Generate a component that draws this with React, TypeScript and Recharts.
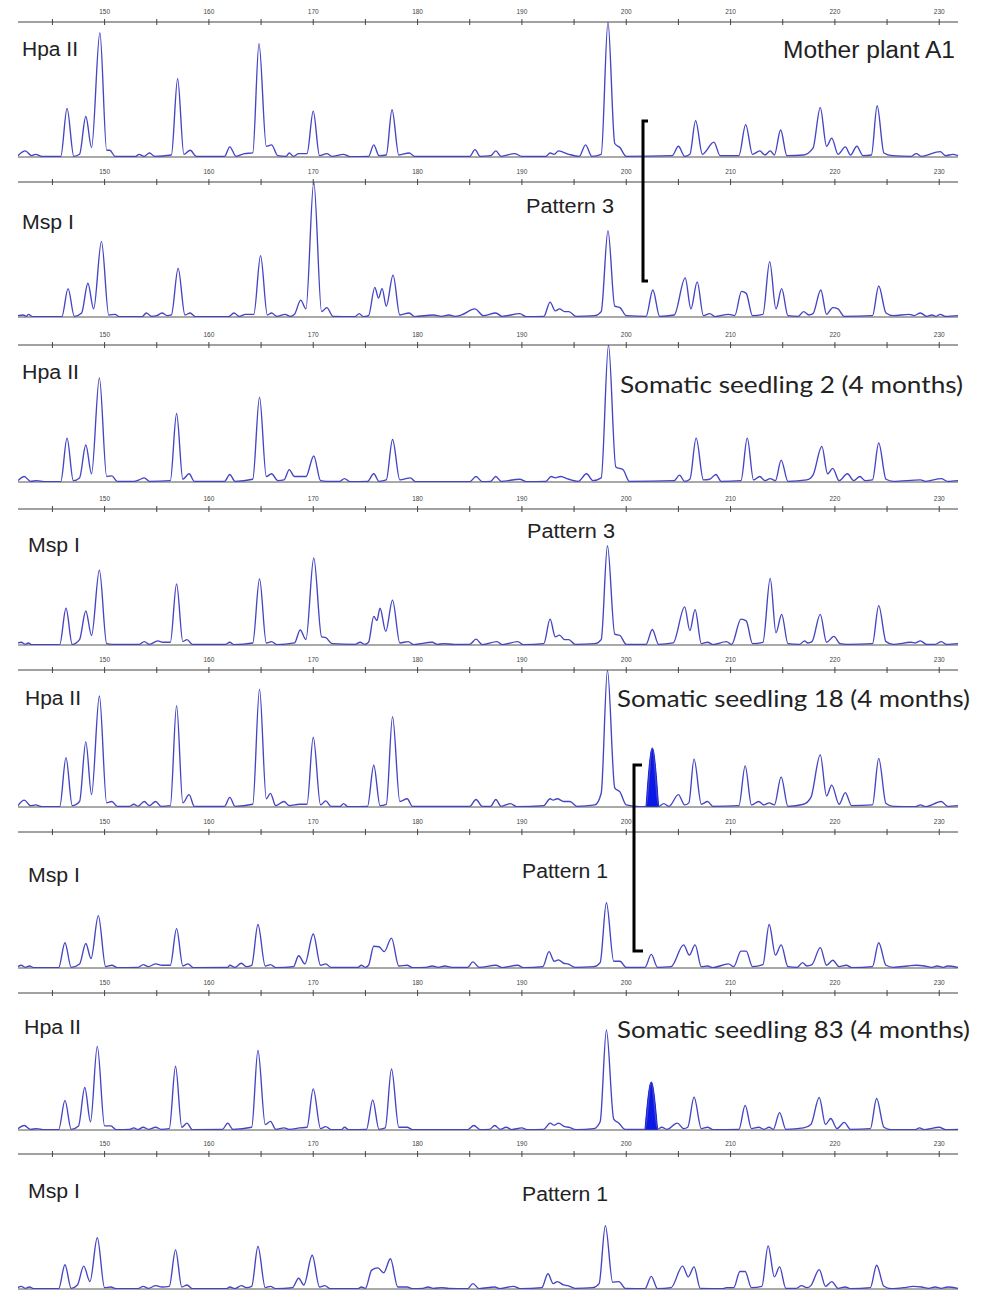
import { ComposedChart, Line, Area, XAxis, YAxis, ReferenceLine } from "recharts";

type Pt = [number, number];

// fragment size (bp) axis
const sizeDomain: [number, number] = [141.7, 231.8];
const tickValues = [145, 150, 155, 160, 165, 170, 175, 180, 185, 190, 195, 200, 205, 210, 215, 220, 225, 230];

// traces: [size, relative fluorescence], 100 = top of panel
const motherHpa: Pt[] = [
  [141.7, 1], [142.4, 4.5], [143.0, 1], [143.4, 2], [144, 0.5], [145.8, 0.5], [146.4, 36], [147.05, 0.5], [147.6, 2],
  [148.2, 30], [148.75, 7], [149.55, 92], [150.2, 5], [150.5, 5], [151, 0.5], [153.0, 0.5], [153.3, 2], [153.8, 0.5],
  [154.3, 3], [154.8, 0.5], [156.4, 1.5], [157.0, 58], [157.6, 2], [158.2, 5], [158.8, 0.5], [161.5, 0.5], [162.0, 7.5],
  [162.6, 0.5], [163.4, 2.5], [164.2, 3], [164.8, 84], [165.5, 8], [166.0, 9], [166.6, 1], [167.4, 0.5], [167.7, 3],
  [168.1, 0.5], [168.6, 2.5], [169.4, 2.5], [170.0, 34], [170.6, 1], [171.3, 2.5], [171.8, 0.5], [172.9, 2], [173.5, 0.3],
  [175.3, 0.5], [175.8, 9], [176.3, 1], [177.0, 1.5], [177.55, 35], [178.2, 1.5], [179.2, 3], [179.7, 0.5], [185.0, 0.5],
  [185.5, 5.5], [186.0, 0.5], [187.0, 1], [187.5, 4.5], [188.0, 0.5], [189.3, 2.5], [190, 0.5], [192.3, 0.5], [192.7, 3],
  [193.1, 2], [193.5, 4.5], [194.5, 2], [195.5, 0.5], [196.1, 9], [196.7, 0.5], [197.6, 2], [198.25, 100], [198.9, 10],
  [199.4, 7], [200.0, 0.5], [204.4, 1], [205.0, 8], [205.6, 0.5], [206.1, 2], [206.65, 27], [207.3, 2], [208.4, 11],
  [209.0, 1], [210.8, 1], [211.45, 24], [212.1, 2], [212.8, 4.5], [213.3, 1.5], [213.8, 4.5], [214.2, 1.5], [214.8, 20],
  [215.4, 1], [217.0, 1.5], [217.9, 6.5], [218.6, 36.6], [219.2, 8], [219.7, 14], [220.3, 2], [221.0, 7.5], [221.5, 1.5],
  [222.1, 8], [222.7, 1], [223.5, 1.5], [224.05, 38], [224.7, 3], [225.5, 1], [227.3, 0.5], [227.8, 2.5], [228.3, 0.5],
  [230.1, 4], [230.6, 1], [231.3, 2], [231.8, 1],
];

const motherMsp: Pt[] = [
  [141.7, 1], [142.2, 1.5], [142.5, 0.5], [142.7, 2], [143.1, 0.3], [145.9, 0.3], [146.5, 21], [147.1, 0.5], [147.8, 3],
  [148.4, 25], [148.95, 6], [149.7, 56], [150.4, 1.5], [151.0, 2], [151.4, 0.3], [153.6, 0.3], [154.0, 3], [154.5, 0.5],
  [155.0, 1], [155.5, 3], [156.0, 1], [156.4, 1.5], [157.05, 36], [157.7, 1.5], [158.2, 3], [158.7, 0.3], [161.9, 0.3],
  [162.4, 3], [162.9, 0.5], [163.5, 2], [164.3, 2], [164.95, 45.5], [165.6, 1.5], [166.0, 3], [166.5, 0.5], [167.3, 2],
  [167.8, 0.5], [168.2, 2], [168.8, 12.5], [169.3, 6], [170.05, 100], [170.8, 4], [171.3, 7], [171.9, 0.5], [174.0, 0.3],
  [174.4, 2.5], [174.8, 0.3], [175.3, 1], [175.9, 22], [176.25, 14], [176.6, 21], [177.0, 8], [177.65, 31], [178.3, 1.5],
  [179.2, 3], [179.7, 0.3], [181.5, 1.5], [182.3, 0.5], [183.0, 1.5], [183.6, 0.5], [184.2, 1.5], [185.5, 6], [186.3, 1],
  [187.5, 3], [188.1, 0.5], [189.8, 2.5], [190.4, 0.3], [192.1, 0.5], [192.7, 11], [193.2, 4.5], [193.6, 6], [194.1, 4],
  [194.5, 4], [195.2, 0.5], [197.0, 1], [197.6, 4], [198.25, 64], [198.9, 8], [199.4, 7], [200.0, 1], [201.9, 0.5],
  [202.55, 20], [203.2, 0.5], [204.6, 1.5], [205.65, 29], [206.2, 6], [206.8, 26], [207.4, 1], [208.0, 2.5], [208.5, 0.3],
  [209.8, 2], [210.4, 1], [211.05, 19], [211.5, 17.5], [212.1, 1], [213.1, 2], [213.75, 41], [214.35, 6], [214.9, 21],
  [215.5, 1], [216.5, 0.5], [217.0, 4], [217.5, 1.5], [217.9, 2.5], [218.65, 20], [219.2, 2], [219.8, 7], [220.3, 6],
  [220.9, 0.5], [223.6, 1], [224.2, 23], [224.9, 3], [225.6, 1], [227.1, 2], [227.6, 1], [228.2, 3], [228.8, 0.5],
  [229.3, 1.5], [229.7, 0.5], [230.1, 2], [230.6, 0.5], [231.8, 1],
];

const seedling2Hpa: Pt[] = [
  [141.7, 1], [142.3, 4], [142.9, 0.5], [143.5, 1], [144.2, 0.3], [145.8, 0.3], [146.4, 32], [147.0, 1], [147.6, 3],
  [148.2, 27], [148.75, 6], [149.5, 76], [150.2, 4], [150.7, 4.5], [151.2, 0.5], [152.8, 0.5], [153.3, 1.5], [153.8, 3],
  [154.3, 0.5], [156.3, 1], [156.9, 50], [157.5, 2], [158.1, 6], [158.6, 0.5], [161.5, 0.5], [162.0, 5.5], [162.5, 0.5],
  [164.2, 2], [164.85, 62], [165.5, 4], [166.0, 6], [166.6, 1], [167.2, 1.5], [167.7, 9], [168.2, 4], [168.7, 4],
  [169.3, 4], [170.05, 19], [170.7, 1], [171.3, 0.5], [172.5, 0.5], [173.0, 2.5], [173.5, 0.3], [175.2, 0.5], [175.8, 6],
  [176.3, 0.5], [177.0, 1.5], [177.6, 31], [178.3, 1.5], [179.3, 3], [179.8, 0.3], [185.0, 0.3], [185.6, 4], [186.2, 0.3],
  [187.0, 0.5], [187.5, 4], [188.0, 0.5], [189.8, 2], [190.4, 0.3], [192.3, 0.5], [192.8, 4], [193.2, 3], [193.7, 4],
  [194.5, 2], [195.4, 0.5], [196.2, 6], [196.8, 1], [197.6, 3], [198.3, 100], [199.0, 11], [199.7, 9], [200.3, 0.5],
  [204.6, 1], [205.1, 5], [205.6, 0.5], [206.1, 2], [206.7, 32], [207.4, 1.5], [208.0, 2], [208.6, 5.5], [209.1, 0.5],
  [211.0, 1], [211.6, 32], [212.2, 1.5], [212.8, 4], [213.3, 1], [213.8, 2.5], [214.3, 1], [214.85, 16], [215.5, 0.5],
  [217.3, 1.5], [217.9, 5], [218.75, 26], [219.3, 6], [219.8, 10], [220.4, 1], [221.2, 6], [221.8, 1], [222.4, 4],
  [222.9, 1], [223.6, 1.5], [224.2, 28.5], [224.9, 2], [225.6, 0.5], [228.2, 1.5], [228.7, 0.5], [230.2, 2.5],
  [230.8, 0.5], [231.8, 1],
];

const seedling2Msp: Pt[] = [
  [141.7, 1.5], [142.0, 2], [142.4, 0.5], [142.7, 1.5], [143.0, 0.3], [145.7, 0.3], [146.3, 27], [146.9, 0.5], [147.6, 4],
  [148.2, 25], [148.75, 7], [149.5, 55], [150.2, 1], [150.7, 0.5], [153.3, 0.5], [153.8, 2.5], [154.3, 0.5], [155.1, 3],
  [155.6, 2], [156.3, 2], [156.9, 45], [157.5, 2.5], [157.9, 4], [158.4, 0.5], [161.6, 0.5], [162.0, 2], [162.4, 0.3],
  [164.2, 1.5], [164.85, 48.6], [165.5, 1.5], [166.0, 2.5], [166.5, 0.3], [168.2, 1.5], [168.75, 11], [169.3, 4],
  [170.05, 64], [170.8, 6], [171.2, 5.5], [171.8, 1], [174.0, 0.5], [174.5, 2], [174.9, 0.5], [175.3, 2], [175.8, 21],
  [176.1, 18], [176.4, 27], [176.95, 10], [177.6, 33], [178.3, 1.5], [179.1, 2.5], [179.6, 0.3], [181.4, 2], [181.9, 0.5],
  [182.5, 1], [183.5, 0.5], [185.0, 0.5], [185.6, 4.3], [186.2, 0.3], [187.6, 2.5], [188.1, 0.3], [189.6, 2.5],
  [190.1, 0.3], [192.1, 1], [192.7, 19], [193.2, 6], [193.6, 7.3], [194.1, 4], [194.5, 4], [195.1, 0.5], [197.0, 1],
  [197.6, 4], [198.2, 73], [198.9, 8], [199.4, 7], [200.0, 0.5], [201.9, 0.5], [202.5, 11.4], [203.1, 0.5], [204.5, 1.5],
  [205.6, 28], [206.1, 10.6], [206.6, 26], [207.2, 1], [207.8, 2], [208.3, 0.3], [209.6, 2.5], [210.1, 0.5], [211.0, 19],
  [211.5, 17.7], [212.1, 1], [213.1, 2], [213.8, 49], [214.35, 9], [214.9, 22.5], [215.5, 1], [216.6, 0.5], [217.1, 3],
  [217.4, 1.5], [217.8, 2.5], [218.6, 22.5], [219.2, 2], [219.9, 6.3], [220.5, 1], [221.2, 0.5], [223.6, 1], [224.2, 29],
  [224.9, 2.5], [225.6, 0.5], [227.3, 2], [227.7, 1.5], [228.2, 3], [228.8, 0.5], [229.6, 0.5], [230.2, 2.5],
  [230.7, 0.5], [231.8, 1],
];

const seedling18Hpa: Pt[] = [
  [141.7, 1], [142.3, 5], [142.9, 1], [143.4, 1.5], [144.0, 0.3], [145.7, 0.3], [146.3, 36], [146.9, 1], [147.6, 4],
  [148.2, 47.5], [148.75, 9], [149.5, 81], [150.2, 3], [150.7, 4], [151.2, 0.5], [152.4, 0.5], [152.8, 2], [153.2, 0.5],
  [153.8, 4], [154.3, 1], [154.9, 4], [155.4, 0.5], [156.3, 1], [156.9, 74], [157.5, 3], [158.1, 9], [158.6, 0.5],
  [161.5, 0.5], [162.0, 7], [162.5, 0.5], [164.2, 2], [164.85, 86], [165.5, 6], [165.9, 10], [166.4, 1], [167.2, 4],
  [167.7, 1], [168.7, 2], [169.4, 2], [170.0, 51], [170.7, 1.5], [171.2, 4.5], [171.7, 0.5], [172.6, 0.5], [172.9, 2.5],
  [173.3, 0.3], [175.2, 0.5], [175.8, 30.5], [176.4, 1], [177.0, 2], [177.6, 66], [178.3, 4], [179.0, 6], [179.5, 0.5],
  [185.0, 0.5], [185.6, 5.5], [186.2, 0.5], [187.0, 0.5], [187.5, 5.5], [188.0, 0.5], [188.9, 2.5], [189.5, 0.3],
  [192.1, 1], [192.7, 6], [193.0, 5], [193.4, 6], [194.0, 4], [194.6, 4], [195.3, 0.5], [197.0, 1.5], [197.6, 10],
  [198.2, 100], [198.9, 14], [199.4, 11], [200.0, 1.5], [201.3, 0.3], [201.9, 0.5], [202.5, 43], [203.1, 0.5],
  [203.6, 2.5], [204.1, 0.5], [205.0, 9], [205.6, 1.5], [206.0, 3], [206.5, 35], [207.2, 2], [207.8, 4], [208.3, 0.5],
  [210.8, 1], [211.4, 30], [212.0, 1.5], [212.7, 4], [213.2, 1.5], [213.7, 3], [214.2, 1.5], [214.85, 22], [215.5, 0.5],
  [217.0, 2], [217.7, 7], [218.6, 38], [219.2, 8], [219.7, 16], [220.4, 2], [221.0, 10.5], [221.6, 1], [223.6, 1.5],
  [224.2, 35.5], [224.9, 2.5], [225.6, 0.5], [227.7, 0.3], [228.2, 1.5], [228.7, 0.3], [230.2, 4], [230.8, 0.5],
  [231.8, 1],
];
const seedling18Peak: Pt[] = [[201.9, 0.5], [202.5, 43], [203.1, 0.5]];

const seedling18Msp: Pt[] = [
  [141.7, 1], [142.0, 2], [142.4, 0.5], [142.8, 1.5], [143.2, 0.3], [145.6, 0.3], [146.2, 18.6], [146.8, 0.5], [147.6, 3],
  [148.2, 18], [148.7, 7], [149.4, 38.5], [150.1, 1], [150.7, 2], [151.2, 0.3], [153.2, 0.5], [153.7, 2.5], [154.2, 1],
  [154.9, 3], [155.5, 2], [156.3, 2], [156.9, 29], [157.5, 1.5], [158.0, 3], [158.5, 0.3], [161.8, 0.5], [162.0, 2],
  [162.5, 0.5], [163.1, 3.5], [163.6, 1], [164.1, 2], [164.7, 32], [165.4, 1.5], [165.9, 2.5], [166.4, 0.3], [168.1, 1],
  [168.6, 9], [169.2, 3], [170.0, 25], [170.7, 2], [171.2, 3], [171.7, 0.5], [174.3, 0.5], [174.6, 2], [175.0, 0.5],
  [175.3, 2], [175.8, 16], [176.3, 15.6], [176.8, 12], [177.5, 22], [178.2, 1.5], [179.0, 2], [179.5, 0.3], [180.8, 0.5],
  [181.4, 1.5], [182.0, 0.5], [182.6, 1.5], [183.3, 0.5], [184.8, 0.5], [185.3, 4.5], [185.9, 0.5], [187.5, 2],
  [188.1, 0.3], [189.6, 2], [190.1, 0.3], [192.0, 1], [192.6, 12], [193.1, 5], [193.5, 6], [194.0, 3.5], [194.4, 3],
  [195.1, 0.5], [196.9, 1], [197.5, 4], [198.1, 48], [198.8, 5], [199.4, 5], [200.0, 0.5], [201.8, 0.5], [202.4, 10],
  [203.0, 0.5], [204.3, 1], [205.5, 17], [206.05, 9.5], [206.6, 17], [207.2, 1], [207.8, 1.5], [208.3, 0.3], [209.8, 3],
  [210.3, 1], [211.0, 12.4], [211.5, 12.4], [212.1, 1], [213.1, 2.5], [213.7, 32], [214.3, 9.5], [214.85, 17],
  [215.5, 1], [216.4, 0.5], [216.9, 4], [217.3, 1.5], [217.8, 2.5], [218.6, 15], [219.2, 2], [219.8, 5.7], [220.4, 1],
  [221.1, 2], [221.6, 0.3], [223.6, 1], [224.2, 18.6], [224.9, 2], [225.6, 0.5], [227.0, 1.5], [227.8, 2], [228.6, 1.5],
  [229.3, 0.5], [229.8, 1.5], [230.4, 0.5], [230.8, 1.5], [231.8, 0.5],
];

const seedling83Hpa: Pt[] = [
  [141.7, 1], [142.3, 3.3], [142.9, 0.5], [143.5, 1], [144.1, 0.3], [145.6, 0.3], [146.2, 21.6], [146.8, 0.5],
  [147.5, 3], [148.1, 31], [148.65, 6], [149.3, 61], [150.0, 3], [150.6, 3], [151.1, 0.3], [152.4, 0.5], [152.8, 1.5],
  [153.2, 0.3], [153.7, 2], [154.2, 0.5], [154.9, 2], [155.4, 0.5], [156.2, 1], [156.8, 46.5], [157.4, 2], [157.9, 5],
  [158.4, 0.3], [161.3, 0.5], [161.8, 5], [162.3, 0.5], [164.1, 2], [164.7, 58], [165.4, 4], [165.9, 6.3], [166.4, 0.5],
  [167.2, 1.5], [167.7, 0.5], [168.7, 1.5], [169.4, 2], [170.0, 30], [170.7, 1], [171.2, 2.5], [171.7, 0.3],
  [172.7, 0.3], [173.0, 2], [173.4, 0.3], [175.1, 0.5], [175.7, 22], [176.3, 0.5], [176.9, 1.5], [177.5, 44.5],
  [178.2, 2], [179.0, 2], [179.5, 0.3], [184.8, 0.3], [185.4, 3.3], [186.0, 0.3], [186.9, 0.5], [187.4, 3.3],
  [187.9, 0.5], [188.5, 2], [189.0, 0.3], [190.0, 1.5], [190.5, 0.3], [192.1, 0.5], [192.7, 5], [193.1, 3.5],
  [193.5, 5], [194.1, 2.5], [194.5, 2], [195.2, 0.3], [196.9, 1], [197.5, 6], [198.1, 73], [198.8, 8], [199.3, 5],
  [199.9, 0.5], [201.8, 0.5], [202.4, 35], [203.0, 0.5], [203.4, 2], [203.9, 0.5], [204.9, 5], [205.5, 1], [205.9, 2],
  [206.5, 24], [207.2, 1], [207.8, 2], [208.3, 0.3], [210.8, 0.5], [211.4, 18], [212.0, 1], [212.7, 2], [213.2, 0.5],
  [213.7, 2], [214.1, 0.5], [214.7, 12.7], [215.3, 0.5], [217.0, 1.5], [217.7, 4], [218.5, 23.7], [219.1, 4],
  [219.6, 8.4], [220.2, 1], [220.9, 5.6], [221.5, 0.5], [223.4, 1], [224.0, 23], [224.7, 2], [225.4, 0.3], [227.7, 0.3],
  [228.1, 1.5], [228.6, 0.3], [230.0, 2], [230.6, 0.3], [231.8, 0.5],
];
const seedling83Peak: Pt[] = [[201.8, 0.5], [202.4, 35], [203.0, 0.5]];

const seedling83Msp: Pt[] = [
  [141.7, 1], [142.0, 2], [142.4, 0.5], [142.8, 1.5], [143.2, 0.3], [145.6, 0.3], [146.2, 18], [146.8, 0.5], [147.4, 3],
  [148.0, 17], [148.6, 5.5], [149.3, 38], [150.0, 1], [150.6, 1.5], [151.1, 0.3], [153.2, 0.3], [153.7, 2], [154.2, 0.5],
  [154.9, 2.5], [155.5, 1.5], [156.2, 2], [156.8, 29], [157.4, 1.5], [157.9, 3], [158.4, 0.3], [161.7, 0.3], [162.0, 1.5],
  [162.5, 0.3], [163.1, 2.5], [163.6, 1], [164.1, 2], [164.7, 31.5], [165.4, 1], [165.9, 2], [166.4, 0.3], [168.0, 1],
  [168.6, 8], [169.1, 3], [169.9, 25], [170.6, 1.5], [171.1, 2.5], [171.6, 0.3], [174.3, 0.3], [174.6, 1.5], [175.0, 0.5],
  [175.6, 14], [176.2, 15.6], [176.75, 12], [177.4, 22.4], [178.1, 1.5], [179.0, 1.5], [179.5, 0.3], [180.5, 0.5],
  [181.0, 1.5], [181.5, 0.5], [182.3, 1], [183.0, 0.5], [184.8, 0.3], [185.3, 4], [185.9, 0.3], [187.4, 1.5],
  [187.9, 0.3], [189.2, 2], [189.8, 0.3], [191.9, 1], [192.5, 11.3], [193.0, 4], [193.4, 5.5], [194.0, 3], [194.4, 2.5],
  [195.1, 0.5], [196.8, 1], [197.4, 4], [198.0, 47], [198.7, 5], [199.3, 5.5], [199.9, 0.5], [201.8, 0.3], [202.4, 9.3],
  [203.0, 0.3], [204.3, 1], [205.4, 17], [205.95, 9], [206.5, 16.4], [207.1, 0.5], [209.3, 0.3], [209.6, 1], [210.3, 1],
  [210.9, 13], [211.4, 13], [212.0, 1], [213.0, 2], [213.6, 32], [214.2, 9], [214.7, 16.4], [215.3, 0.5], [216.3, 0.5],
  [216.8, 2.5], [217.3, 1], [217.7, 2.5], [218.5, 14.4], [219.1, 2], [219.7, 5.5], [220.3, 0.5], [221.0, 1.5],
  [221.5, 0.3], [223.4, 1], [224.0, 17.6], [224.7, 2], [225.4, 0.3], [226.6, 1], [227.5, 2], [228.3, 1.5], [229.0, 0.5],
  [229.6, 1.5], [230.2, 0.5], [230.8, 1.5], [231.8, 0.5],
];

// panel layout: axis line y and trace baseline y on the page
const panels = [
  { trace: motherHpa, peak: null, axisY: 22, baseY: 157 },
  { trace: motherMsp, peak: null, axisY: 182, baseY: 317 },
  { trace: seedling2Hpa, peak: null, axisY: 345, baseY: 482 },
  { trace: seedling2Msp, peak: null, axisY: 509, baseY: 645 },
  { trace: seedling18Hpa, peak: seedling18Peak, axisY: 670, baseY: 807 },
  { trace: seedling18Msp, peak: null, axisY: 832, baseY: 968 },
  { trace: seedling83Hpa, peak: seedling83Peak, axisY: 993, baseY: 1130 },
  { trace: seedling83Msp, peak: null, axisY: 1154, baseY: 1289 },
];

const labels = [
  { text: "Hpa II", x: 22, y: 56, size: 20, font: "Liberation Sans, Arial", len: 56 },
  { text: "Mother plant A1", x: 783, y: 58, size: 23, font: "Liberation Sans, Arial", len: 172 },
  { text: "Msp I", x: 22, y: 229, size: 20, font: "Liberation Sans, Arial", len: 52 },
  { text: "Pattern 3", x: 526, y: 213, size: 20, font: "Liberation Sans, Arial", len: 88 },
  { text: "Hpa II", x: 22, y: 379, size: 20, font: "Liberation Sans, Arial", len: 57 },
  { text: "Somatic seedling 2 (4 months)", x: 620, y: 393, size: 24, font: "Lato", len: 343 },
  { text: "Msp I", x: 28, y: 552, size: 20, font: "Liberation Sans, Arial", len: 52 },
  { text: "Pattern 3", x: 527, y: 538, size: 20, font: "Liberation Sans, Arial", len: 88 },
  { text: "Hpa II", x: 25, y: 705, size: 20, font: "Liberation Sans, Arial", len: 56 },
  { text: "Somatic seedling 18 (4 months)", x: 617, y: 707, size: 24, font: "Lato", len: 353 },
  { text: "Msp I", x: 28, y: 882, size: 20, font: "Liberation Sans, Arial", len: 52 },
  { text: "Pattern 1", x: 522, y: 878, size: 20, font: "Liberation Sans, Arial", len: 86 },
  { text: "Hpa II", x: 24, y: 1034, size: 20, font: "Liberation Sans, Arial", len: 57 },
  { text: "Somatic seedling 83 (4 months)", x: 617, y: 1038, size: 24, font: "Lato", len: 353 },
  { text: "Msp I", x: 28, y: 1198, size: 20, font: "Liberation Sans, Arial", len: 52 },
  { text: "Pattern 1", x: 522, y: 1201, size: 20, font: "Liberation Sans, Arial", len: 86 },
];

const TRACE = "#4444c4";
const FILL = "#0a18e8";
const toRows = (pts: Pt[]) => pts.map(([x, y]) => ({ x, y }));

function SizeTick({ x, y, payload }: any) {
  const v = payload.value;
  return (
    <g>
      <line x1={x} x2={x} y1={y - 3} y2={y + 3} stroke="#444" strokeWidth={1} />
      {v % 10 === 0 && (
        <text x={x} y={y - 8} textAnchor="middle" fontSize={6.5} fill="#444" fontFamily="Liberation Sans, Arial">
          {v}
        </text>
      )}
    </g>
  );
}

export default function App() {
  return (
    <div style={{ position: "absolute", left: 0, top: 0, width: 981, height: 1292, background: "#fff" }}>
      {panels.map((p, i) => (
        <div key={i} style={{ position: "absolute", left: 0, top: p.axisY - 22 }}>
          <ComposedChart width={981} height={p.baseY - p.axisY + 24} margin={{ top: 0, right: 23, bottom: 2, left: 18 }}>
            <XAxis
              dataKey="x"
              type="number"
              orientation="top"
              domain={sizeDomain}
              allowDataOverflow
              ticks={tickValues}
              interval={0}
              height={22}
              tickSize={0}
              tickMargin={0}
              tickLine={false}
              axisLine={{ stroke: "#444", strokeWidth: 1 }}
              tick={<SizeTick />}
            />
            <YAxis hide domain={[0, 100]} allowDataOverflow />
            <ReferenceLine y={0} stroke="#555" strokeWidth={1.2} ifOverflow="extendDomain" />
            {p.peak && (
              <Area
                data={toRows(p.peak)}
                dataKey="y"
                type="monotone"
                stroke={FILL}
                fill={FILL}
                fillOpacity={1}
                isAnimationActive={false}
              />
            )}
            <Line
              data={toRows(p.trace)}
              dataKey="y"
              type="monotone"
              stroke={TRACE}
              strokeWidth={1.35}
              dot={false}
              isAnimationActive={false}
            />
          </ComposedChart>
        </div>
      ))}
      <svg width={981} height={1292} style={{ position: "absolute", left: 0, top: 0, pointerEvents: "none" }}>
        {labels.map((l, i) => (
          <text
            key={i}
            x={l.x}
            y={l.y}
            fontSize={l.size}
            fontFamily={l.font}
            fill="#222"
            textLength={l.len}
            lengthAdjust="spacingAndGlyphs"
          >
            {l.text}
          </text>
        ))}
        <path d="M648,121 H643 V281 H648" fill="none" stroke="#000" strokeWidth={3} />
        <path d="M642,765 H634 V951 H643" fill="none" stroke="#000" strokeWidth={3} />
      </svg>
    </div>
  );
}
